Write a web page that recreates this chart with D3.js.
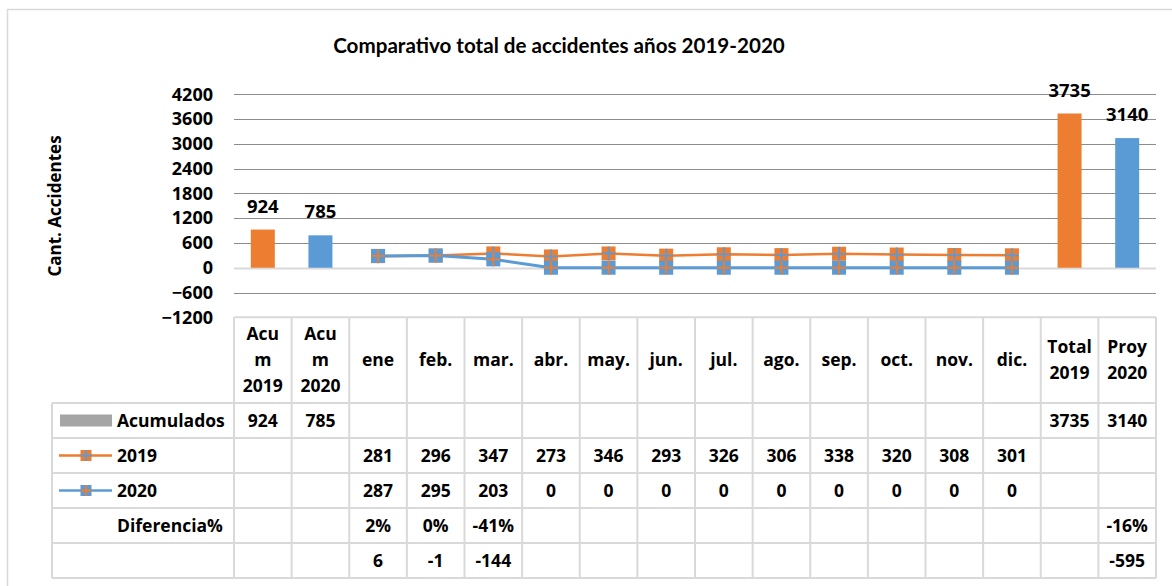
<!DOCTYPE html>
<html>
<head>
<meta charset="utf-8">
<script src="https://cdn.jsdelivr.net/npm/d3@7"></script>
<style>
  body { margin: 0; background: #fff; }
  text { font-family: "Open Sans", Lato, sans-serif; font-weight: bold; fill: #000; }
</style>
</head>
<body>
<script>
// chart data
const categories = ['Acum 2019', 'Acum 2020', 'ene', 'feb.', 'mar.', 'abr.', 'may.', 'jun.', 'jul.', 'ago.', 'sep.', 'oct.', 'nov.', 'dic.', 'Total 2019', 'Proy 2020'];
const headerLines = [['Acu', 'm', '2019'], ['Acu', 'm', '2020'], ['ene'], ['feb.'], ['mar.'], ['abr.'], ['may.'], ['jun.'], ['jul.'], ['ago.'], ['sep.'], ['oct.'], ['nov.'], ['dic.'], ['Total', '2019'], ['Proy', '2020']];
const acumulados = [924, 785, null, null, null, null, null, null, null, null, null, null, null, null, 3735, 3140];
const acumYear = ['2019', '2020', '', '', '', '', '', '', '', '', '', '', '', '', '2019', '2020'];
const v2019 = [null, null, 281, 296, 347, 273, 346, 293, 326, 306, 338, 320, 308, 301, null, null];
const v2020 = [null, null, 287, 295, 203, 0, 0, 0, 0, 0, 0, 0, 0, 0, null, null];
const difPct = ['', '', '2%', '0%', '-41%', '', '', '', '', '', '', '', '', '', '', '-16%'];
const difAbs = ['', '', '6', '-1', '-144', '', '', '', '', '', '', '', '', '', '', '-595'];
const yTicks = [-1200, -600, 0, 600, 1200, 1800, 2400, 3000, 3600, 4200];

const W = 1172, H = 586;
const orange = '#ED7D31', blue = '#5B9BD5', grey = '#A5A5A5';
const tableLine = '#d9d9d9';

const svg = d3.select('body').append('svg')
  .attr('width', W)
  .attr('height', H);

// outer frame (only top + left visible in crop)
svg.append('path')
  .attr('d', `M7.5,${H} V9.5 H${W}`)
  .attr('fill', 'none')
  .attr('stroke', tableLine)
  .attr('stroke-width', 1.5);

const x = d3.scaleBand().domain(categories).range([234, 1156]).padding(0);
const y = d3.scaleLinear().domain([-1200, 4200]).range([317.3, 94.3]);

// title
svg.append('text')
  .attr('x', 559).attr('y', 53)
  .attr('text-anchor', 'middle')
  .style('font-family', 'Lato, sans-serif')
  .style('font-size', '20.6px')
  .text('Comparativo total de accidentes años 2019-2020');

// gridlines
svg.append('g').selectAll('line').data(yTicks).join('line')
  .attr('x1', 234).attr('x2', 1156)
  .attr('y1', (d) => Math.round(y(d)) + 0.5)
  .attr('y2', (d) => Math.round(y(d)) + 0.5)
  .attr('stroke', (d) => d === 0 ? '#d9d9d9' : '#8c8c8c')
  .attr('stroke-width', (d) => d === 0 ? 2 : 1);

// y axis labels
const yAxis = svg.append('g')
  .attr('transform', 'translate(213,0)')
  .call(d3.axisLeft(y).tickValues(yTicks).tickSize(0).tickPadding(0).tickFormat(d3.format('d')));
yAxis.select('.domain').remove();
yAxis.selectAll('text')
  .style('font-size', '18px')
  .style('font-family', '"Open Sans", sans-serif')
  .style('font-weight', 'bold');

svg.append('text')
  .attr('transform', 'translate(61,206) rotate(-90)')
  .attr('text-anchor', 'middle')
  .style('font-size', '17px')
  .text('Cant.  Accidentes');

// bars
const barData = categories.map((c, i) => ({c, v: acumulados[i], yr: acumYear[i]})).filter((d) => d.v != null);
svg.append('g').selectAll('rect').data(barData).join('rect')
  .attr('x', (d) => x(d.c) + x.bandwidth() / 2 - 12)
  .attr('width', 24)
  .attr('y', (d) => y(d.v))
  .attr('height', (d) => y(0) - y(d.v))
  .attr('fill', (d) => d.yr === '2019' ? orange : blue);

svg.append('g').selectAll('text').data(barData).join('text')
  .attr('x', (d) => x(d.c) + x.bandwidth() / 2)
  .attr('y', (d) => y(d.v) - 17)
  .attr('text-anchor', 'middle')
  .style('font-size', '18.5px')
  .text((d) => d.v);

// lines
const cx = (c) => x(c) + x.bandwidth() / 2;
function series(vals) {
  return categories.map((c, i) => ({c, v: vals[i]})).filter((d) => d.v != null);
}
const line = d3.line().x((d) => cx(d.c)).y((d) => y(d.v));

function drawMarker(g, px, py, fill, cross, s) {
  const h = s / 2;
  g.append('rect')
    .attr('x', px - h).attr('y', py - h)
    .attr('width', s).attr('height', s)
    .attr('fill', fill);
  g.append('path')
    .attr('d', `M${px - h},${py} H${px + h} M${px},${py - h} V${py + h}`)
    .attr('stroke', cross)
    .attr('stroke-width', 1.8);
}

const s19 = series(v2019), s20 = series(v2020);
svg.append('path').datum(s19).attr('d', line)
  .attr('fill', 'none').attr('stroke', orange).attr('stroke-width', 2.5);
const m19 = svg.append('g');
s19.forEach((d) => drawMarker(m19, cx(d.c), y(d.v), orange, blue, 14));
svg.append('path').datum(s20).attr('d', line)
  .attr('fill', 'none').attr('stroke', blue).attr('stroke-width', 3);
const m20 = svg.append('g');
s20.forEach((d) => drawMarker(m20, cx(d.c), y(d.v), blue, orange, 14));

// data table
const tTop = 317.3, hdrBottom = 403, rowH = 35;
const rows = [
  {label: 'Acumulados', key: 'bar', vals: acumulados.map((v) => v == null ? '' : v)},
  {label: '2019', key: '2019', vals: v2019.map((v) => v == null ? '' : v)},
  {label: '2020', key: '2020', vals: v2020.map((v) => v == null ? '' : v)},
  {label: 'Diferencia%', key: '', vals: difPct},
  {label: '', key: '', vals: difAbs}
];
const tBottom = hdrBottom + rowH * rows.length;
const tg = svg.append('g').attr('stroke', tableLine).attr('stroke-width', 2);

// vertical column lines
const colEdges = categories.map((c) => x(c)).concat([x.range()[1]]);
tg.selectAll('line.v').data(colEdges).join('line')
  .attr('class', 'v')
  .attr('x1', (d) => d).attr('x2', (d) => d)
  .attr('y1', tTop).attr('y2', tBottom);
tg.append('line').attr('x1', 52).attr('x2', 52).attr('y1', hdrBottom).attr('y2', tBottom);
// horizontal lines
tg.append('line').attr('x1', 234).attr('x2', 1156).attr('y1', tTop).attr('y2', tTop);
tg.selectAll('line.h').data(d3.range(rows.length + 1)).join('line')
  .attr('class', 'h')
  .attr('x1', 52).attr('x2', 1156)
  .attr('y1', (i) => hdrBottom + i * rowH)
  .attr('y2', (i) => hdrBottom + i * rowH);

// header text
const hdr = svg.append('g');
categories.forEach((c, i) => {
  const lines = headerLines[i];
  const lh = 26;
  const mid = (tTop + hdrBottom) / 2;
  const t = hdr.append('text')
    .attr('x', cx(c))
    .attr('text-anchor', 'middle')
    .style('font-size', '17.5px');
  lines.forEach((l, k) => {
    t.append('tspan')
      .attr('x', cx(c))
      .attr('y', mid + 6 + (k - (lines.length - 1) / 2) * lh)
      .text(l);
  });
});

// row cells
rows.forEach((r, ri) => {
  const ty = hdrBottom + ri * rowH + rowH / 2 + 6;
  svg.append('g').selectAll('text').data(r.vals).join('text')
    .attr('x', (d, i) => cx(categories[i]))
    .attr('y', ty)
    .attr('text-anchor', 'middle')
    .style('font-size', '17.5px')
    .text((d) => d);
  svg.append('text')
    .attr('x', 117).attr('y', ty)
    .style('font-size', '17.5px')
    .text(r.label);
  const ky = hdrBottom + ri * rowH + rowH / 2;
  if (r.key === 'bar') {
    svg.append('rect').attr('x', 60).attr('y', ky - 6).attr('width', 52).attr('height', 12).attr('fill', grey);
  } else if (r.key) {
    const col = r.key === '2019' ? orange : blue;
    svg.append('line').attr('x1', 59).attr('x2', 112).attr('y1', ky).attr('y2', ky)
      .attr('stroke', col).attr('stroke-width', 2.5);
    drawMarker(svg.append('g'), 86, ky, col, r.key === '2019' ? blue : orange, 11);
  }
});
</script>
</body>
</html>
